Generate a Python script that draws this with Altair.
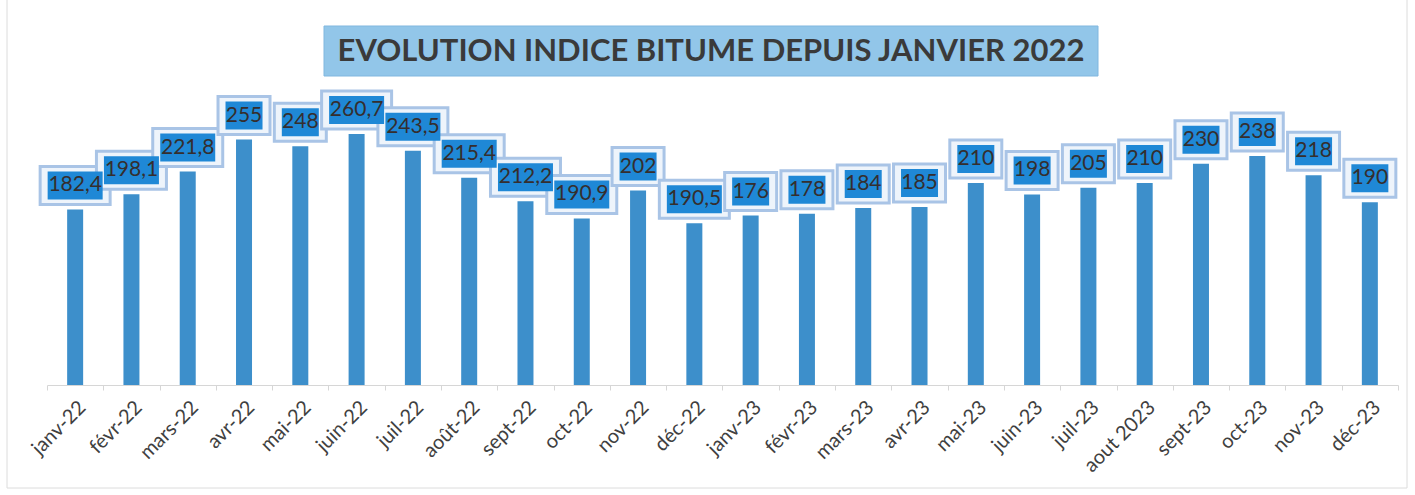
import altair as alt
import pandas as pd

months = ["janv-22", "févr-22", "mars-22", "avr-22", "mai-22", "juin-22", "juil-22",
          "août-22", "sept-22", "oct-22", "nov-22", "déc-22", "janv-23", "févr-23",
          "mars-23", "avr-23", "mai-23", "juin-23", "juil-23", "aout 2023", "sept-23",
          "oct-23", "nov-23", "déc-23"]
bar_values = [182.4, 198.1, 221.8, 255, 248, 260.7, 243.5, 215.4, 191, 173, 202, 168,
              176, 178, 184, 185, 210, 198, 205, 210, 230, 238, 218, 190]
label_texts = ["182,4", "198,1", "221,8", "255", "248", "260,7", "243,5", "215,4",
               "212,2", "190,9", "202", "190,5", "176", "178", "184", "185", "210",
               "198", "205", "210", "230", "238", "218", "190"]
title_text = "EVOLUTION INDICE BITUME DEPUIS JANVIER 2022"

PLOT_W, PLOT_H = 1351, 385
Y_MAX = 400
U = Y_MAX / PLOT_H  # data units per pixel

df = pd.DataFrame({"month": months, "value": bar_values, "label": label_texts})
df["cy"] = df["value"] + 24 * U
df["o_lo"] = df["cy"] - 19 * U
df["o_hi"] = df["cy"] + 19 * U
df["i_lo"] = df["cy"] - 14 * U
df["i_hi"] = df["cy"] + 14 * U
df["ow"] = [25 + 9 * len(s) for s in label_texts]
df["iw"] = df["ow"] - 15

xscale = alt.Scale(paddingInner=0, paddingOuter=0)
yscale = alt.Scale(domain=[0, Y_MAX])

base = alt.Chart(df)

bars = base.mark_bar(size=16, color="#3d8fcb").encode(
    x=alt.X("month:N", sort=months, scale=xscale, title=None,
            axis=alt.Axis(labelAngle=-45, labelFont="Lato", labelFontSize=20,
                          labelColor="#404040", domainColor="#d6d6d6",
                          tickColor="#d6d6d6", tickSize=5, tickBand="extent",
                          labelPadding=7)),
    y=alt.Y("value:Q", scale=yscale, axis=None),
)

outer = base.mark_bar(fill="#eef4fb", stroke="#a9c4e6", strokeWidth=3).encode(
    x=alt.X("month:N", sort=months, scale=xscale),
    y=alt.Y("o_lo:Q", scale=yscale, axis=None),
    y2="o_hi:Q",
    size=alt.Size("ow:Q", scale=None, legend=None),
)

inner = base.mark_bar(fill="#1f88d6").encode(
    x=alt.X("month:N", sort=months, scale=xscale),
    y=alt.Y("i_lo:Q", scale=yscale, axis=None),
    y2="i_hi:Q",
    size=alt.Size("iw:Q", scale=None, legend=None),
)

texts = base.mark_text(font="Lato", fontSize=21, color="#352e2e", baseline="middle",
                       align="center").encode(
    x=alt.X("month:N", sort=months, scale=xscale),
    y=alt.Y("cy:Q", scale=yscale, axis=None),
    text="label:N",
)

tdf = pd.DataFrame({"t": [title_text]})
title_box = alt.Chart(tdf).mark_rect(fill="#92c6e9", stroke="#80b7df", strokeWidth=1).encode(
    x=alt.value(277), x2=alt.value(1051), y=alt.value(26), y2=alt.value(76)
)
title_txt = alt.Chart(tdf).mark_text(font="Lato", fontSize=31, fontWeight="bold",
                                     color="#3a3a3a", align="center",
                                     baseline="middle").encode(
    x=alt.value(664), y=alt.value(52), text="t:N"
)
frame = alt.Chart(tdf).mark_rect(fillOpacity=0, stroke="#dcdcdc", strokeWidth=1).encode(
    x=alt.value(-40), x2=alt.value(1360), y=alt.value(-5), y2=alt.value(488)
)

chart = alt.layer(frame, bars, outer, inner, texts, title_box, title_txt).properties(
    width=PLOT_W, height=PLOT_H,
    autosize=alt.AutoSizeParams(type="none"),
    padding={"left": 47, "top": 0, "right": 17, "bottom": 110},
    background="white",
).configure_view(stroke=None)

chart.save("out.html", embed_options={"renderer": "svg", "actions": False})
